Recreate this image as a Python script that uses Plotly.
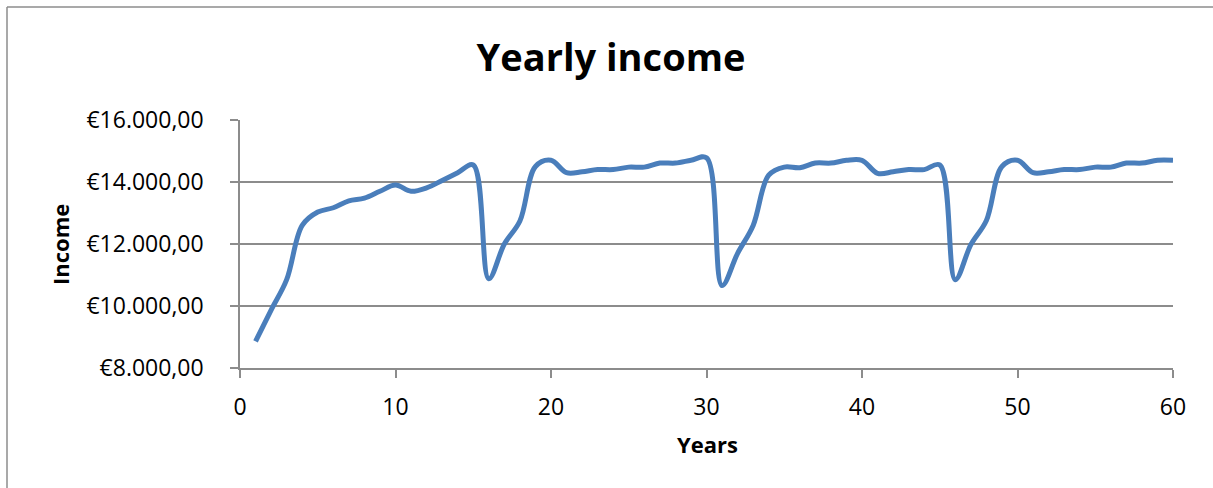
import plotly.graph_objects as go

years = list(range(1, 61))
income = [
    8860, 9870, 10850, 12600, 13030, 13170, 13390, 13480, 13700, 13900,
    13700, 13810, 14050, 14300, 14550, 10880, 12000, 12740, 14500, 14700,
    14300, 14330, 14400, 14400, 14480, 14480, 14610, 14610, 14700, 14780,
    10660, 11700, 12600, 14220, 14480, 14460, 14610, 14610, 14700, 14700,
    14280, 14330, 14400, 14400, 14550, 10850, 11980, 12760, 14500, 14700,
    14300, 14330, 14400, 14400, 14480, 14480, 14610, 14610, 14700, 14700,
]
y_ticks = [8000, 10000, 12000, 14000, 16000]
y_tick_text = ["€8.000,00", "€10.000,00", "€12.000,00", "€14.000,00", "€16.000,00"]
x_ticks = [0, 10, 20, 30, 40, 50, 60]

W, H = 1213, 488
L, R, T, B = 240, 40, 120, 120
pw, ph = W - L - R, H - T - B

def px(xp):
    return (xp - L) / pw

def py(yp):
    return (H - B - yp) / ph

grid = "#8c8c8c"
font = "Open Sans"

fig = go.Figure()
fig.add_trace(go.Scatter(
    x=years, y=income, mode="lines",
    line=dict(color="#4A7EBB", width=5, shape="spline", smoothing=1),
    hoverinfo="x+y", showlegend=False,
))

fig.update_layout(
    width=W, height=H,
    margin=dict(l=L, r=R, t=T, b=B),
    paper_bgcolor="white", plot_bgcolor="white",
    font=dict(family=font, color="black"),
    title=dict(text="<b>Yearly income</b>", x=611 / W, xref="container", xanchor="center",
               y=1 - 58 / H, yref="container", yanchor="middle",
               font=dict(size=38, family=font, color="black")),
    xaxis=dict(range=[0, 60], tickvals=x_ticks, showgrid=False, zeroline=False,
               showline=True, linecolor=grid, linewidth=1.5,
               ticks="outside", ticklen=8, tickcolor=grid, tickwidth=1.5,
               tickfont=dict(size=23, family=font, color="black"),
               ticklabelstandoff=10),
    yaxis=dict(range=[8000, 16000], tickvals=y_ticks, ticktext=y_tick_text,
               showgrid=True, gridcolor=grid, gridwidth=1.5, zeroline=False,
               showline=True, linecolor=grid, linewidth=1.5,
               ticks="outside", ticklen=8, tickcolor=grid, tickwidth=1.5,
               tickfont=dict(size=23, family=font, color="black"),
               ticklabelstandoff=22),
    annotations=[
        dict(text="<b>Years</b>", x=px(707), y=py(444), xref="paper", yref="paper",
             xanchor="center", yanchor="middle", showarrow=False,
             font=dict(size=22, family=font, color="black")),
        dict(text="<b>Income</b>", x=px(60), y=py(245), xref="paper", yref="paper",
             xanchor="center", yanchor="middle", showarrow=False, textangle=-90,
             font=dict(size=22, family=font, color="black")),
    ],
    shapes=[
        dict(type="line", xref="paper", yref="paper", x0=px(7), x1=px(W),
             y0=py(7), y1=py(7), line=dict(color="#8c8c8c", width=1.5)),
        dict(type="line", xref="paper", yref="paper", x0=px(7), x1=px(7),
             y0=py(7), y1=py(H), line=dict(color="#8c8c8c", width=1.5)),
    ],
)

fig.write_html(
    "out.html",
    config={"displayModeBar": False},
    post_script="document.documentElement.style.overflow='hidden';document.body.style.margin='0';document.body.style.overflow='hidden';",
)
